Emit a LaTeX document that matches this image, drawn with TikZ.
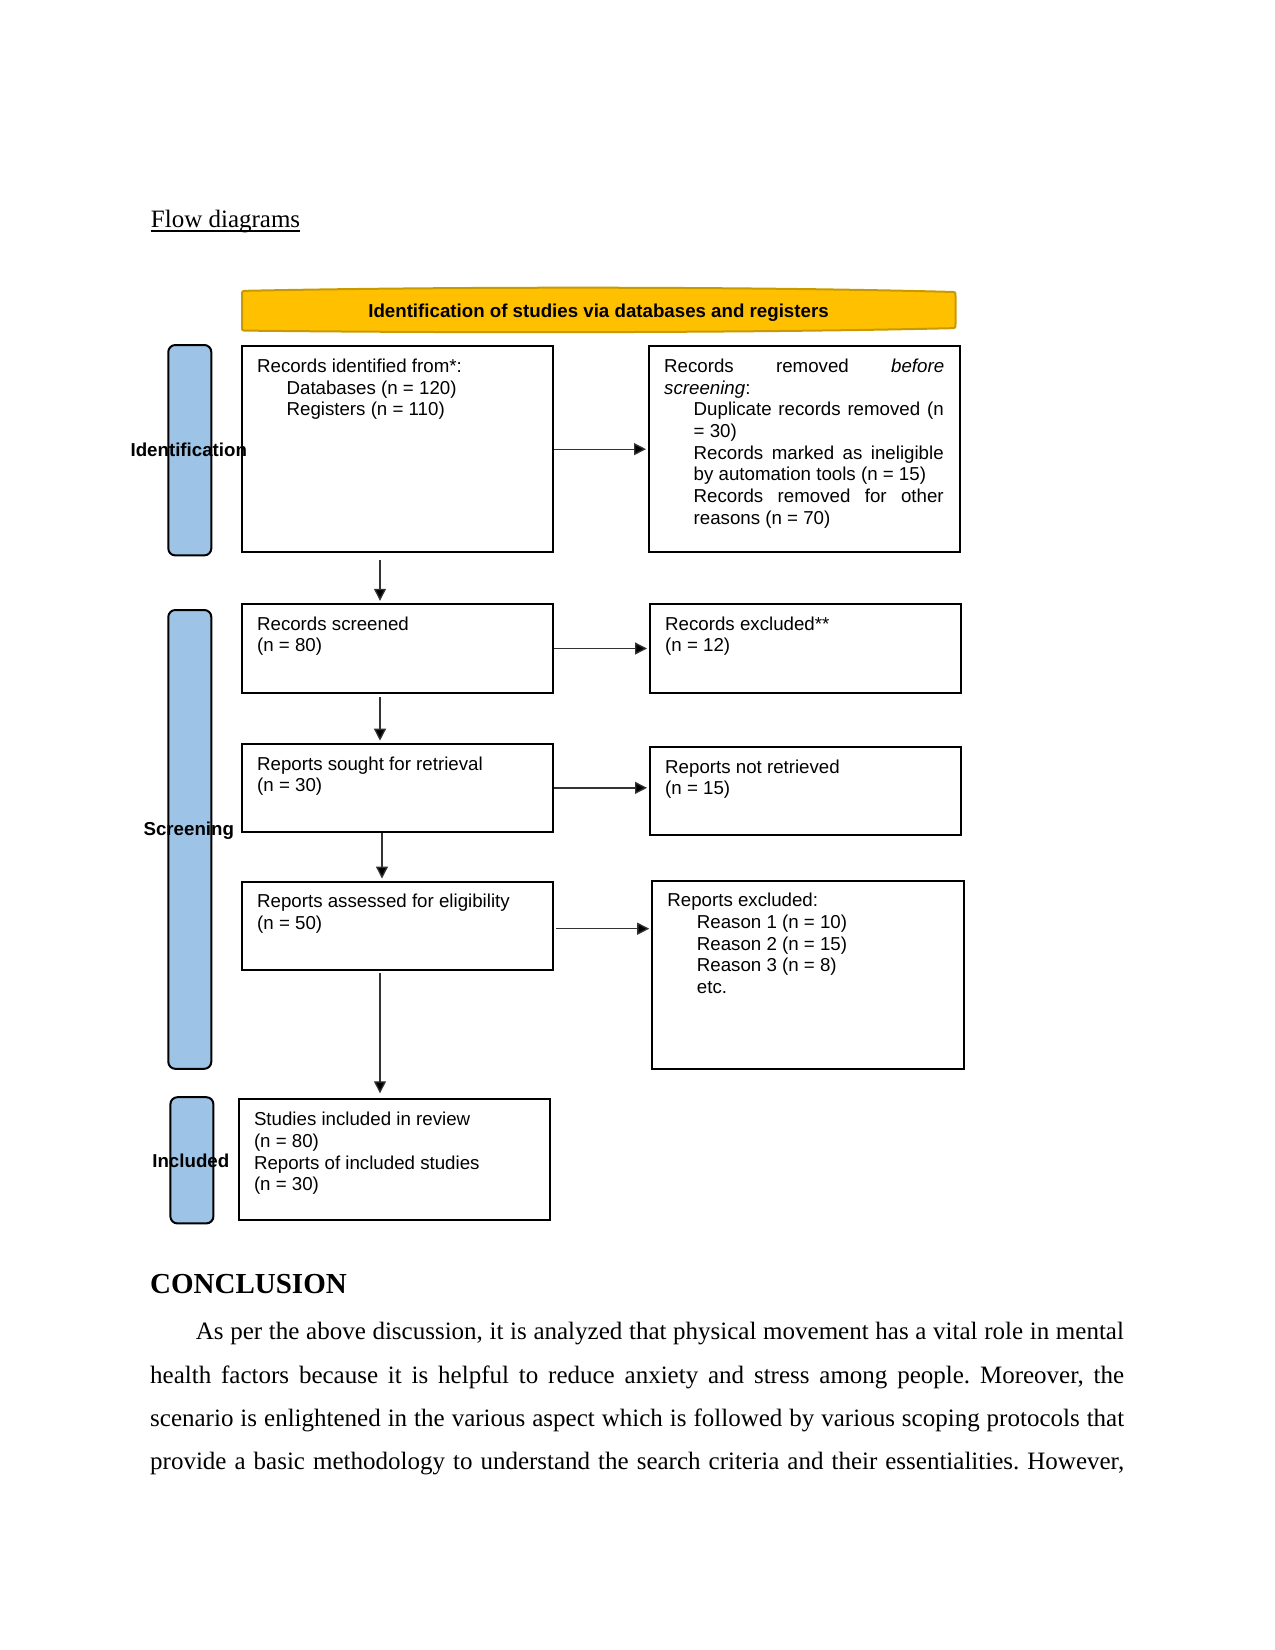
\documentclass[tikz,border=0pt]{standalone}
\usepackage{fontspec}
\setmainfont{Liberation Serif}
\newfontfamily\arialf{Liberation Sans}
\usetikzlibrary{arrows.meta,calc}
\definecolor{bannerfill}{HTML}{FFC000}
\definecolor{bannerline}{HTML}{C89A00}
\definecolor{barblue}{HTML}{9DC3E6}
\frenchspacing
\begin{document}
\begin{tikzpicture}[x=1pt,y=-1pt,
 box/.style={draw=black, line width=2pt, anchor=north west, inner sep=0pt, minimum width=311.4pt},
 bar/.style={draw=black, line width=2pt, fill=barblue, rounded corners=7pt, anchor=north west, inner sep=0pt, minimum width=43pt},
 boxtxt/.style={anchor=base west, inner sep=0pt, font=\arialf\fontsize{18.7}{21.7}\selectfont},
 lbl/.style={anchor=base, inner sep=0pt, font=\arialf\bfseries\fontsize{18.7}{21.7}\selectfont},
 arr/.style={draw=black!80, line width=1.3pt, -{Triangle[length=12pt,width=12pt,fill=black]}, shorten >=2pt},
 body/.style={anchor=base west, inner sep=0pt, font=\fontsize{25}{30}\selectfont},
]
\useasboundingbox (0,0) rectangle (1275,1650);
\fill[white] (0,0) rectangle (1275,1650);

% title
\node[body] (title) at (150.7,227) {Flow diagrams};
\draw[line width=1.2pt] ($(title.base west)+(0,4)$) -- ($(title.base east)+(0,4)$);

% banner
\draw[draw=bannerline, fill=bannerfill, line width=2pt, line join=round]
  (246,290.8) .. controls (450,286.5) and (750,286.5) .. (951,291.9)
  .. controls (955.5,292) .. (955.5,296)
  -- (955.5,324)
  .. controls (955.5,328) .. (951,328.2)
  .. controls (750,333) and (450,333) .. (246,330.6)
  .. controls (242,330.5) .. (242,326.5)
  -- (242,295)
  .. controls (242,291) .. cycle;
\node[inner sep=0pt, font=\arialf\bfseries\fontsize{18.7}{21.7}\selectfont] (hdr) at (598.5,312.5)
      {Identification of studies via databases and registers};

% side bars
\node[bar, minimum height=210.4pt] (barI) at (167.3,344) {};
\node[bar, minimum height=458.8pt] (barS) at (167.3,609) {};
\node[bar, minimum height=126.2pt] (barN) at (169.4,1096.2) {};
\node[lbl] (lI) at (188.8,456.5) {Identification};
\node[lbl] (lS) at (188.8,835.5) {Screening};
\node[lbl] (lN) at (190.8,1167.5) {Included};

% boxes
\node[box, minimum height=206.3pt] (b1) at (240.9,345) {};
\node[box, minimum height=206.3pt] (b2) at (648,345) {};
\node[box, minimum height=89.4pt] (b3) at (240.9,602.8) {};
\node[box, minimum height=89.4pt] (b4) at (649,602.8) {};
\node[box, minimum height=88.3pt] (b5) at (241,742.7) {};
\node[box, minimum height=88.3pt] (b6) at (649,745.9) {};
\node[box, minimum height=88.4pt] (b7) at (241,880.5) {};
\node[box, minimum height=188.3pt] (b8) at (651.2,879.5) {};
\node[box, minimum height=121pt] (b9) at (237.8,1098.3) {};

% box texts
\node[boxtxt] (t1) at ($(b1.north west)+(16,27.3)$) {\parbox[t]{280pt}{%
Records identified from*:\\
\hspace*{29.5pt}Databases (n = 120)\\
\hspace*{29.5pt}Registers (n = 110)}};
\node[boxtxt] (t2) at ($(b2.north west)+(16,27.3)$) {\parbox[t]{280pt}{%
\makebox[280pt][s]{Records removed \textit{before}}\\
\textit{screening}:\\
\hspace*{29.5pt}\makebox[250pt][s]{Duplicate records removed (n}\\
\hspace*{29.5pt}= 30)\\
\hspace*{29.5pt}\makebox[250pt][s]{Records marked as ineligible}\\
\hspace*{29.5pt}by automation tools (n = 15)\\
\hspace*{29.5pt}\makebox[250pt][s]{Records removed for other}\\
\hspace*{29.5pt}reasons (n = 70)}};
\node[boxtxt] (t3) at ($(b3.north west)+(16,27.3)$) {\parbox[t]{280pt}{%
Records screened\\(n = 80)}};
\node[boxtxt] (t4) at ($(b4.north west)+(16,27.3)$) {\parbox[t]{280pt}{%
Records excluded**\\(n = 12)}};
\node[boxtxt] (t5) at ($(b5.north west)+(16,27.3)$) {\parbox[t]{280pt}{%
Reports sought for retrieval\\(n = 30)}};
\node[boxtxt] (t6) at ($(b6.north west)+(16,27.3)$) {\parbox[t]{280pt}{%
Reports not retrieved\\(n = 15)}};
\node[boxtxt] (t7) at ($(b7.north west)+(16,27.3)$) {\parbox[t]{280pt}{%
Reports assessed for eligibility\\(n = 50)}};
\node[boxtxt] (t8) at ($(b8.north west)+(16,27.3)$) {\parbox[t]{280pt}{%
Reports excluded:\\
\hspace*{29.5pt}Reason 1 (n = 10)\\
\hspace*{29.5pt}Reason 2 (n = 15)\\
\hspace*{29.5pt}Reason 3 (n = 8)\\
\hspace*{29.5pt}etc.}};
\node[boxtxt] (t9) at ($(b9.north west)+(16,27.3)$) {\parbox[t]{280pt}{%
Studies included in review\\(n = 80)\\Reports of included studies\\(n = 30)}};

% connectors
\coordinate (vx) at (380,0);
\coordinate (vy) at (382,0);
\draw[arr] (b1.east) -- (b2.west);
\draw[arr] (b3.east) -- (b4.west);
\draw[arr] (b5.east) -- (b5.east -| b6.west);
\draw[arr] ($(b7.east)+(2,3)$) -- ($(b7.east -| b8.west)+(0,3)$);
\draw[arr] ($(b1.south -| vx)+(0,7)$) -- (b3.north -| vx);
\draw[arr] ($(b3.south -| vx)+(0,3)$) -- (b5.north -| vx);
\draw[arr] (b5.south -| vy) -- (b7.north -| vy);
\draw[arr] ($(b7.south -| vx)+(0,2)$) -- ($(b9.north -| vx)+(0,-3)$);

% conclusion
\node[anchor=base west, inner sep=0pt, font=\bfseries\fontsize{29}{34}\selectfont] (concl) at (150,1293.5) {CONCLUSION};
\node[body] (p1) at (195.7,1339.8) {\makebox[928pt][s]{As per the above discussion, it is analyzed that physical movement has a vital role in mental}};
\node[body] (p2) at (150,1383) {\makebox[974pt][s]{health factors because it is helpful to reduce anxiety and stress among people. Moreover, the}};
\node[body] (p3) at (150,1426.3) {\makebox[974pt][s]{scenario is enlightened in the various aspect which is followed by various scoping protocols that}};
\node[body] (p4) at (150,1469.5) {\makebox[974pt][s]{provide a basic methodology to understand the search criteria and their essentialities. However,}};
\end{tikzpicture}
\end{document}
